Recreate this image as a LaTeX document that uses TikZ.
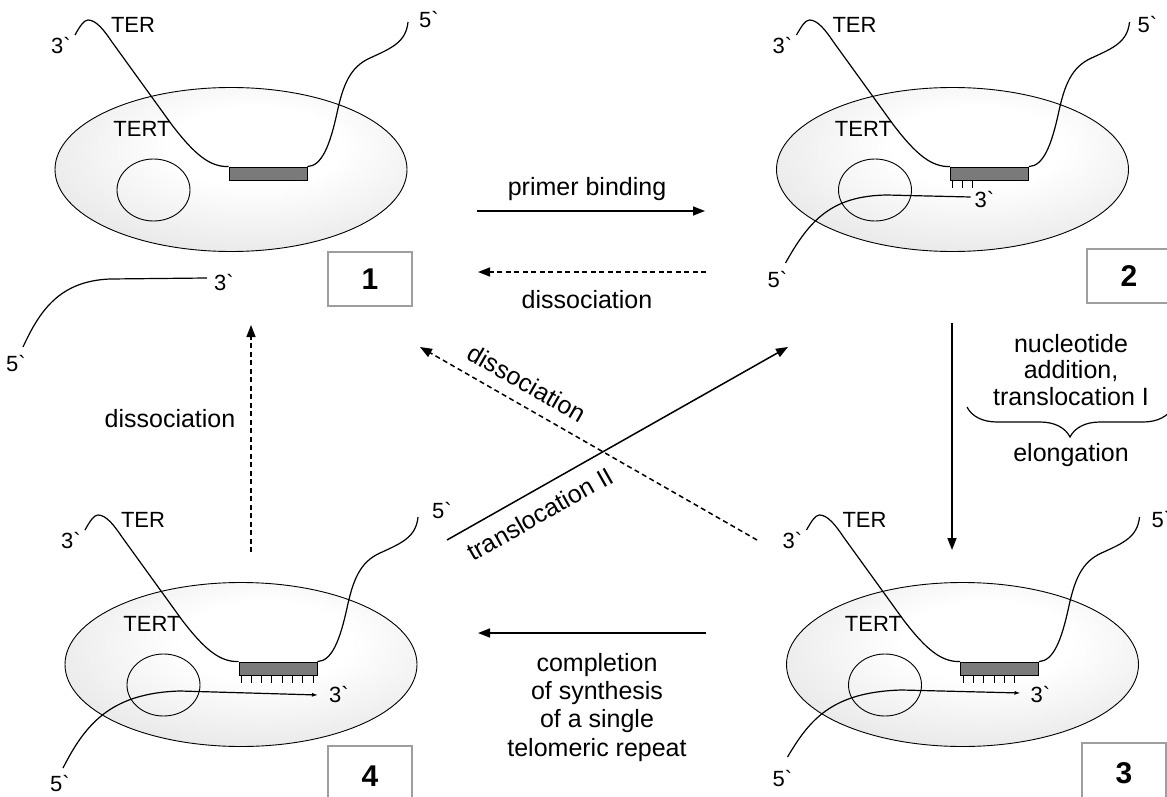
\documentclass[tikz,border=0pt]{standalone}
\usepackage{fontspec}
\newfontfamily\lsans{Liberation Sans}[Ligatures=ResetAll]
\usetikzlibrary{arrows.meta,decorations.pathreplacing,shapes.geometric}

% soft light interior of the enzyme body
\pgfdeclareradialshading{tertfill}{\pgfpoint{4bp}{8bp}}{%
  color(0bp)=(white); color(12bp)=(white); color(55bp)=(black!19); color(100bp)=(black!19)}

% one telomerase complex: TERT body, pocket, RNA template and TER strand
% #1 = name prefix, #2 = position of the 5' label of TER
\newcommand{\telomerase}[2]{%
  \node[body] (#1body) at (231,169.5) {};
  \node[pocket] (#1pocket) at (153.5,190) {};
  \node[tmpl] (#1tmpl) at (268,173.5) {};
  \draw[strand] (75,35) .. controls (80,26) and (84,20) .. (88,20)
     .. controls (96,20) and (104,30) .. (112,42) -- (172,125)
     .. controls (195,155) and (210,167) .. (#1tmpl.north west);
  \draw[strand] (#1tmpl.north east) .. controls (322,166) and (330,145) .. (337,113)
     .. controls (343,85) and (350,67) .. (370,58)
     .. controls (392,48) and (406,42) .. (408,22);
  \node[lab] (#1ter) at (133,25) {TER};
  \node[lab] (#1tert) at (142,129) {TERT};
  \node[lab] (#1three) at (61,46) {3`};
  \node[lab] (#1five) at (#2) {5`};
}

\begin{document}
\begin{tikzpicture}[x=1pt,y=-1pt,
  body/.style={ellipse, draw, line width=0.9pt, shade, shading=tertfill,
    minimum width=352, minimum height=164, inner sep=0},
  pocket/.style={ellipse, draw, line width=0.9pt, minimum width=73, minimum height=62, inner sep=0},
  tmpl/.style={rectangle, draw, line width=0.8pt, fill=black!52,
    minimum width=78, minimum height=13, inner sep=0},
  strand/.style={line width=1.2pt},
  primer/.style={strand, -{Latex[length=6pt,width=4pt]}},
  tickline/.style={line width=0.9pt},
  lab/.style={font=\lsans\fontsize{22}{24}\selectfont, inner sep=0},
  caption/.style={font=\lsans\fontsize{25}{26.5}\selectfont, inner sep=0, align=center},
  numbox/.style={draw=black!38, line width=1.4pt, fill=white, minimum width=84,
    minimum height=54, inner sep=0, font=\lsans\bfseries\fontsize{30}{30}\selectfont},
  fwd/.style={line width=1.5pt, -{Triangle[length=12pt,width=9pt]}},
  bwd/.style={fwd, dash pattern=on 5pt off 3.5pt},
]
\useasboundingbox (0,0) rectangle (1167,797);
\fill[white] (0,0) rectangle (1167,797);

% ---- state 1: free enzyme and free DNA
\telomerase{a}{429,20}
\coordinate (fs) at (23,347);
\coordinate (fe) at (207,278);
\draw[strand] (fs) .. controls (40,310) and (60,281) .. (110,279) -- (fe);
\node[lab] (afree3) at (224,283) {3`};
\node[lab] (afree5) at (16,364) {5`};

% ---- state 2: primer bound
\begin{scope}[shift={(721.5,0)}]
  \telomerase{b}{426,25}
  \foreach \k in {0,1,2} \draw[tickline] (231+10*\k,180) -- ++(0,8);
  \coordinate (bps) at (64,263);
  \coordinate (bpe) at (249,197);
  \draw[strand] (bps) .. controls (88,220) and (110,196) .. (165,195) -- (bpe);
  \node[lab] (bp3) at (263,200) {3`};
  \node[lab] (bp5) at (56,280) {5`};
\end{scope}

% ---- state 3: elongated primer
\begin{scope}[shift={(731.5,495)}]
  \telomerase{c}{430,25}
  \foreach \k in {0,...,5} \draw[tickline] (232+10.2*\k,180) -- ++(0,8);
  \coordinate (cps) at (56,262);
  \coordinate (cpe) at (289,198);
  \draw[primer] (cps) .. controls (78,225) and (100,197) .. (170,195) -- (cpe);
  \node[lab] (cp3) at (309,200) {3`};
  \node[lab] (cp5) at (51,283) {5`};
\end{scope}

% ---- state 4: repeat completed
\begin{scope}[shift={(10,495)}]
  \telomerase{d}{432,16}
  \foreach \k in {0,...,7} \draw[tickline] (231+10.3*\k,180) -- ++(0,8);
  \coordinate (dps) at (53,273);
  \coordinate (dpe) at (308,200);
  \draw[primer] (dps) .. controls (75,230) and (100,198) .. (170,196) -- (dpe);
  \node[lab] (dp3) at (329,200) {3`};
  \node[lab] (dp5) at (50,289) {5`};
\end{scope}

% ---- state numbers
\node[numbox] (n1) at (370,279) {1};
\node[numbox] (n2) at (1129,276) {2};
\node[numbox, minimum height=60] (n3) at (1124,773) {3};
\node[numbox, minimum height=60] (n4) at (370,776) {4};

% ---- transitions
\coordinate (pbA) at (477,211);  \coordinate (pbB) at (705,211);
\coordinate (dsA) at (706,272);  \coordinate (dsB) at (478,272);
\coordinate (elA) at (952,323);  \coordinate (elB) at (952,550);
\coordinate (csA) at (706,633);  \coordinate (csB) at (478,633);
\coordinate (dvA) at (251,552);  \coordinate (dvB) at (251,325);
\coordinate (trA) at (447,540);  \coordinate (trB) at (788,347);
\coordinate (ddA) at (757,540);  \coordinate (ddB) at (420,347);

\draw[fwd] (pbA) -- (pbB);
\draw[bwd] (dsA) -- (dsB);
\draw[fwd] (elA) -- (elB);
\draw[fwd] (csA) -- (csB);
\draw[bwd] (dvA) -- (dvB);
\draw[fwd] (trA) -- (trB);
\draw[bwd] (ddA) -- (ddB);

\node[caption, anchor=base] (lpb) at (587,195) {primer binding};
\node[caption, anchor=base] (lds) at (587,308) {dissociation};
\node[caption, anchor=base] (ldl) at (170,427) {dissociation};
\node[caption, rotate=-29.9] (ldd) at (527,383) {dissociation};
\node[caption, rotate=29.5] (ltr) at (540,514) {translocation II};
\node[caption, anchor=north] (lnuc) at (1071,334) {nucleotide\\addition,\\translocation I};
\node[caption, anchor=base] (lel) at (1071,461) {elongation};
\node[caption, anchor=north, font=\lsans\fontsize{25}{28.3}\selectfont] (lcomp) at (597,653)
  {completion\\of synthesis\\of a single\\telomeric repeat};

% brace grouping the elongation steps
\coordinate (brA) at (1173,407);
\coordinate (brB) at (967,407);
\draw[line width=1.2pt, decorate, decoration={brace, amplitude=30pt}] (brA) -- (brB);
\end{tikzpicture}
\end{document}
